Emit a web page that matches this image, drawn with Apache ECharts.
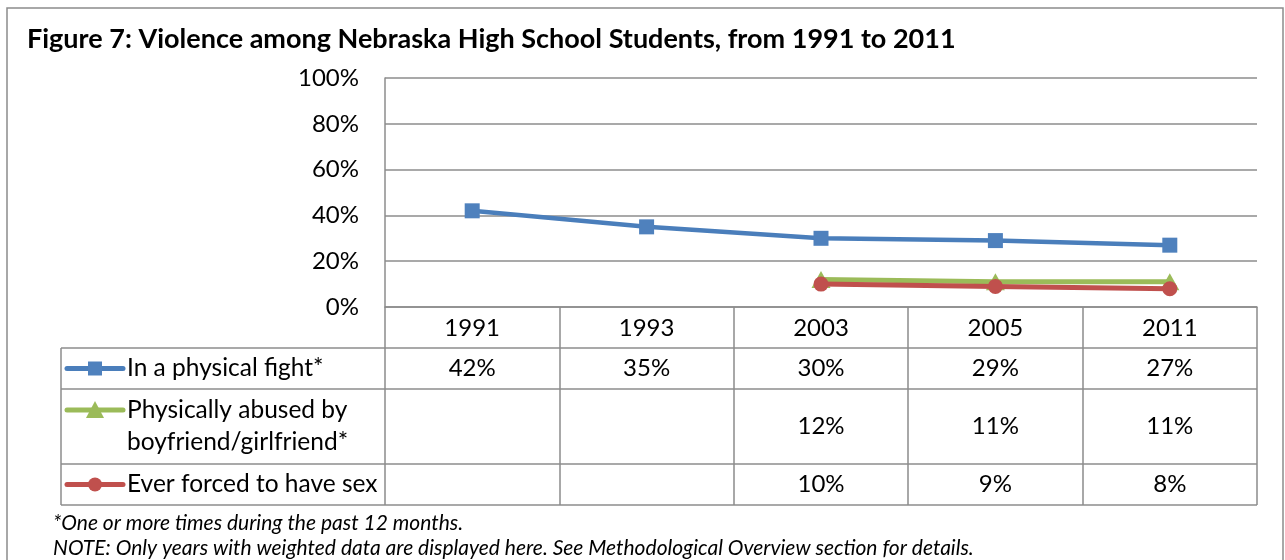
<!DOCTYPE html>
<html>
<head>
<meta charset="utf-8">
<script src="https://cdn.jsdelivr.net/npm/echarts@6/dist/echarts.min.js"></script>
<style>
html, body { margin: 0; padding: 0; background: #fff; }
#chart { width: 1285px; height: 560px; }
</style>
</head>
<body>
<div id="chart"></div>
<script>
// data
const years = ['1991', '1993', '2003', '2005', '2011'];
const fight = [42, 35, 30, 29, 27];
const abused = [null, null, 12, 11, 11];
const forced = [null, null, 10, 9, 8];
const seriesNames = ['In a physical fight*', 'Physically abused by\nboyfriend/girlfriend*', 'Ever forced to have sex'];
const seriesColors = ['#4A7EBB', '#9BBB59', '#C0504D'];
const titleText = 'Figure 7: Violence among Nebraska High School Students, from 1991 to 2011';
const notes = ['*One or more times during the past 12 months.',
  'NOTE: Only years with weighted data are displayed here. See Methodological Overview section for details.'];

const FONT = 'Lato, "Open Sans", sans-serif';
const FS = 24;
const GRAY = '#8c8c8c';
// table rows (header, fight, abused, forced) edges in px
const rowEdges = [307, 348, 389, 464, 505];
const tableLeft = 61;
const tableRight = 1257;

let $chart = echarts.init(document.getElementById('chart'));

const option = {
  animation: false,
  title: {
    text: titleText,
    left: 22,
    top: 21,
    textStyle: { fontFamily: FONT, fontSize: 27, fontWeight: 'bold', color: '#000' }
  },
  grid: { left: 385, top: 78, width: 872, height: 229 },
  xAxis: {
    type: 'category',
    data: years,
    boundaryGap: true,
    axisLine: { lineStyle: { color: GRAY, width: 1.5 } },
    axisTick: { show: true, interval: 0, length: rowEdges[4] - rowEdges[0], lineStyle: { color: GRAY, width: 1.5 } },
    axisLabel: { margin: 9, fontFamily: FONT, fontSize: FS, color: '#000' }
  },
  yAxis: {
    type: 'value',
    min: 0,
    max: 100,
    interval: 20,
    axisLine: { show: true, lineStyle: { color: GRAY, width: 1.5 } },
    axisTick: { show: false },
    splitLine: { lineStyle: { color: GRAY, width: 1.5 } },
    axisLabel: { formatter: '{value}%', margin: 26, fontFamily: FONT, fontSize: FS, color: '#000' }
  },
  series: [
    {
      name: seriesNames[0], type: 'line', data: fight,
      symbol: 'rect', symbolSize: 15,
      lineStyle: { color: seriesColors[0], width: 4.5 },
      itemStyle: { color: '#4F81BD' }, z: 3
    },
    {
      name: seriesNames[1], type: 'line', data: abused,
      symbol: 'triangle', symbolSize: [19, 17],
      lineStyle: { color: seriesColors[1], width: 5 },
      itemStyle: { color: seriesColors[1] }, z: 2
    },
    {
      name: seriesNames[2], type: 'line', data: forced,
      symbol: 'circle', symbolSize: 15,
      lineStyle: { color: seriesColors[2], width: 5 },
      itemStyle: { color: seriesColors[2] }, z: 4
    }
  ]
};
$chart.setOption(option);

// table + legend + notes drawn with graphic elements
const g = [];
// outer frame
g.push({ type: 'rect', shape: { x: 7, y: 8, width: 1276, height: 600 }, style: { fill: 'none', stroke: GRAY, lineWidth: 1.5 }, silent: true });
// horizontal rules of the data table
for (let i = 1; i < rowEdges.length; i++) {
  g.push({ type: 'line', shape: { x1: tableLeft, y1: rowEdges[i], x2: tableRight, y2: rowEdges[i] }, style: { stroke: GRAY, lineWidth: 1.5 } });
}
g.push({ type: 'line', shape: { x1: tableLeft, y1: rowEdges[1], x2: tableLeft, y2: rowEdges[4] }, style: { stroke: GRAY, lineWidth: 1.5 } });

const rows = [fight, abused, forced];
const symbols = ['rect', 'triangle', 'circle'];
const legendY = [368.5, 410, 484.5];
rows.forEach((vals, r) => {
  const cy = (rowEdges[r + 1] + rowEdges[r + 2]) / 2;
  vals.forEach((v, i) => {
    if (v == null) return;
    const x = $chart.convertToPixel({ xAxisIndex: 0 }, i);
    g.push({ type: 'text', style: { text: v + '%', x: x, y: cy, align: 'center', verticalAlign: 'middle', font: FS + 'px ' + FONT, fill: '#000' } });
  });
  // legend key
  const ly = legendY[r];
  const c = seriesColors[r];
  g.push({ type: 'line', shape: { x1: 67, y1: ly, x2: 123, y2: ly }, style: { stroke: c, lineWidth: 5, lineCap: 'round' } });
  if (symbols[r] === 'rect') {
    g.push({ type: 'rect', shape: { x: 88, y: ly - 7, width: 14, height: 14 }, style: { fill: '#4F81BD' } });
  } else if (symbols[r] === 'triangle') {
    g.push({ type: 'polygon', shape: { points: [[95, ly - 9], [104, ly + 8], [86, ly + 8]] }, style: { fill: c } });
  } else {
    g.push({ type: 'circle', shape: { cx: 95, cy: ly, r: 7 }, style: { fill: c } });
  }
  g.push({ type: 'text', style: { text: seriesNames[r], x: 127, y: ly, align: 'left', verticalAlign: r === 1 ? 'top' : 'middle',
    lineHeight: 32, font: '24.5px ' + FONT, fill: '#000' }, y: r === 1 ? -16 : 0 });
});

notes.forEach((t, i) => {
  g.push({ type: 'text', style: { text: t, x: 53, y: 523 + i * 25, verticalAlign: 'middle', font: 'italic 21px ' + FONT, fill: '#000' } });
});

$chart.setOption({ graphic: g });
</script>
</body>
</html>
